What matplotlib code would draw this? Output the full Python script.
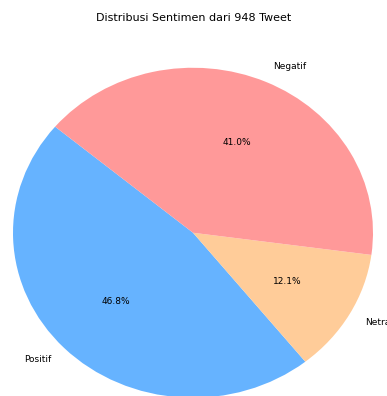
import matplotlib.pyplot as plt

# Data sentimen dari 948 tweet
labels = ['Positif', 'Netral', 'Negatif']
jumlah = [444, 115, 389]
warna = ['#66b3ff', '#ffcc99', '#ff9999']

fig = plt.figure(figsize=(3.87, 3.96), dpi=100)
ax = fig.add_axes([-32 / 387, -43 / 396, 450 / 387, 412.5 / 396])

ax.pie(jumlah, labels=labels, colors=warna, autopct='%1.1f%%', startangle=140,
       textprops={'fontsize': 6.5})
ax.set_aspect('auto')
ax.set_xlim(-1.25, 1.25)
ax.set_ylim(-1.25, 1.25)

fig.text(0.5, 1 - 18 / 396, 'Distribusi Sentimen dari 948 Tweet',
         ha='center', va='center', fontsize=8)

fig.savefig('out.png', dpi=100)
